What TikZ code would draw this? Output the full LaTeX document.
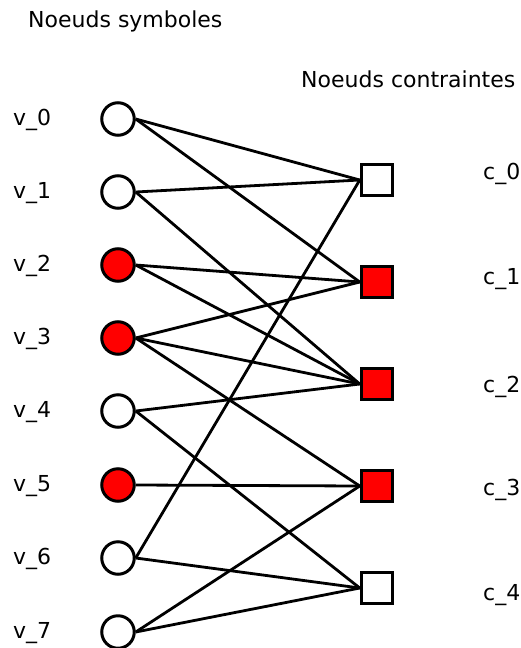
\documentclass[tikz,border=0pt]{standalone}
\usepackage{fontspec}
\setmainfont{DejaVu Sans}
\usepackage{tikz}

\begin{document}
\begin{tikzpicture}[x=1pt, y=-1pt,
    sym/.style={draw, circle, line width=3pt, minimum size=32.5pt, inner sep=0pt, fill=white},
    con/.style={draw, rectangle, line width=3pt, minimum size=31.5pt, inner sep=0pt, fill=white},
    lbl/.style={anchor=base west, inner sep=0pt, font=\fontsize{22}{26}\selectfont},
    edge/.style={draw, line width=2.8pt}]
    \useasboundingbox (0,0) rectangle (520,648);
    \node [lbl] at (28,27) (t1) {Noeuds symboles};
    \node [lbl] at (301,87) (t2) {Noeuds contraintes};
    \node [sym] at (118,119) (v0) {};
    \node [sym] at (118,192) (v1) {};
    \node [sym, fill=red] at (118,265) (v2) {};
    \node [sym, fill=red] at (118,338) (v3) {};
    \node [sym] at (118,411) (v4) {};
    \node [sym, fill=red] at (118,485) (v5) {};
    \node [sym] at (118,558) (v6) {};
    \node [sym] at (118,632) (v7) {};
    \node [con] at (377,180) (c0) {};
    \node [con, fill=red] at (377,282) (c1) {};
    \node [con, fill=red] at (377,384) (c2) {};
    \node [con, fill=red] at (377,486) (c3) {};
    \node [con] at (377,588) (c4) {};
    \node [lbl] at (13,125) (lv0) {v\_0};
    \node [lbl] at (13,198) (lv1) {v\_1};
    \node [lbl] at (13,271) (lv2) {v\_2};
    \node [lbl] at (13,344) (lv3) {v\_3};
    \node [lbl] at (13,417) (lv4) {v\_4};
    \node [lbl] at (13,491) (lv5) {v\_5};
    \node [lbl] at (13,564) (lv6) {v\_6};
    \node [lbl] at (13,638) (lv7) {v\_7};
    \node [lbl] at (483,179) (lc0) {c\_0};
    \node [lbl] at (483,284) (lc1) {c\_1};
    \node [lbl] at (483,392) (lc2) {c\_2};
    \node [lbl] at (483,495) (lc3) {c\_3};
    \node [lbl] at (483,600) (lc4) {c\_4};
    \path [edge] (v0.east) -- (c0.west);
    \path [edge] (v0.east) -- (c1.west);
    \path [edge] (v1.east) -- (c0.west);
    \path [edge] (v1.east) -- (c2.west);
    \path [edge] (v2.east) -- (c1.west);
    \path [edge] (v2.east) -- (c2.west);
    \path [edge] (v3.east) -- (c1.west);
    \path [edge] (v3.east) -- (c2.west);
    \path [edge] (v3.east) -- (c3.west);
    \path [edge] (v4.east) -- (c2.west);
    \path [edge] (v4.east) -- (c4.west);
    \path [edge] (v5.east) -- (c3.west);
    \path [edge] (v6.east) -- (c0.west);
    \path [edge] (v6.east) -- (c4.west);
    \path [edge] (v7.east) -- (c3.west);
    \path [edge] (v7.east) -- (c4.west);
\end{tikzpicture}
\end{document}
